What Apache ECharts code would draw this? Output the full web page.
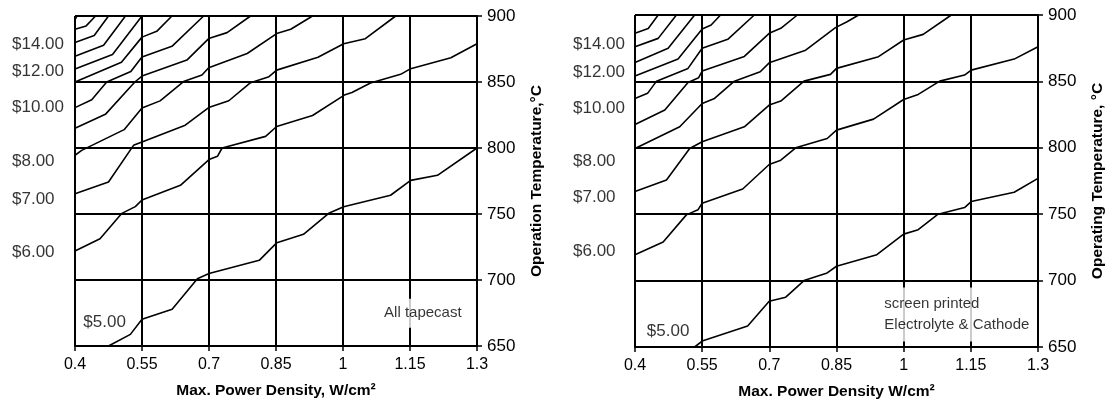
<!DOCTYPE html>
<html><head><meta charset="utf-8">
<script src="https://cdn.jsdelivr.net/npm/echarts@6/dist/echarts.min.js"></script>
<style>html,body{margin:0;padding:0;background:#fff;}#c{width:1107px;height:409px;}</style>
</head><body><div id="c"></div>
<script>
// ---- Data ----
// x = Max. Power Density (W/cm²), y = Operation Temperature (°C)
// Left panel: "All tapecast" cost contours ($16 ... $5)
const tc16 = [[0.4, 897], [0.404, 900]];
const tc15 = [[0.4, 890], [0.425, 892.5], [0.446, 900]];
const tc14 = [[0.4, 880], [0.443, 885.2], [0.475, 900]];
const tc13 = [[0.4, 869.6], [0.464, 877.9], [0.513, 900]];
const tc12 = [[0.4, 859.8], [0.484, 870.9], [0.55, 900]];
const tc11 = [[0.4, 850], [0.504, 865], [0.55, 884], [0.583, 888.4], [0.617, 900]];
const tc10 = [[0.4, 830.6], [0.4375, 836.6], [0.471, 850], [0.525, 858], [0.55, 869], [0.617, 877], [0.688, 900]];
const tc9 = [[0.4, 815], [0.468, 825.5], [0.534, 850], [0.55, 854.5], [0.6505, 866.6], [0.6993, 882.9], [0.7405, 887.4], [0.793, 900]];
const tc8 = [[0.4, 794.5], [0.415, 798.2], [0.51, 813.9], [0.55, 830.3], [0.5905, 835.7], [0.643, 850.3], [0.6843, 855.3], [0.6993, 860.8], [0.7855, 871.6], [0.8515, 886.7], [0.883, 890], [0.9318, 900]];
const tc7 = [[0.4, 765.4], [0.475, 774.3], [0.531, 802], [0.55, 804.5], [0.6468, 817.3], [0.6993, 830.6], [0.7443, 835.8], [0.793, 849.5], [0.8343, 854], [0.8515, 859], [0.944, 868.8], [1.0015, 879], [1.05, 882.8], [1.118, 900]];
const tc6 = [[0.4, 722], [0.456, 731.3], [0.505, 750.5], [0.535, 755.6], [0.55, 760.6], [0.636, 771.7], [0.7, 791.2], [0.719, 793.7], [0.7293, 800], [0.8268, 808.8], [0.8515, 816.3], [0.9318, 824.6], [1.003, 840.1], [1.02, 842], [1.0615, 849.2], [1.129, 855.8], [1.1515, 860.1], [1.2415, 868.4], [1.3, 879]];
const tc5 = [[0.475, 650], [0.524, 658.8], [0.55, 670.2], [0.6175, 677.8], [0.674, 701], [0.7, 705], [0.8125, 714.9], [0.852, 728.3], [0.9115, 734.6], [0.968, 750.5], [1.0015, 755.5], [1.1065, 764.2], [1.1515, 775.5], [1.2115, 779.3], [1.3, 800]];

// Right panel: "screen printed Electrolyte & Cathode" cost contours
const sp1 = [[0.4, 886.2], [0.4296, 889.9], [0.4518, 900]];
const sp2 = [[0.4, 876.1], [0.4518, 882.4], [0.4925, 900]];
const sp3 = [[0.4, 864.3], [0.474, 874.9], [0.5332, 900]];
const sp4 = [[0.4, 854], [0.4962, 866.8], [0.55, 889.4], [0.57, 892.5], [0.591, 900]];
const sp5 = [[0.4, 837.2], [0.4281, 841], [0.4481, 850.2], [0.5184, 859.8], [0.55, 874.9], [0.6072, 881.7], [0.6664, 900]];
const sp6 = [[0.4, 817.6], [0.4666, 828.4], [0.5184, 849.2], [0.5421, 852.8], [0.55, 857.8], [0.6442, 868.8], [0.6997, 886.2], [0.7256, 890], [0.7626, 900]];
const sp7 = [[0.4, 799.5], [0.4999, 815.8], [0.55, 833.4], [0.5776, 837.2], [0.622, 850.2], [0.6797, 857.3], [0.6997, 864], [0.7811, 873.5], [0.8477, 890.5], [0.8736, 894.9], [0.8995, 900]];
const sp8 = [[0.4, 767], [0.4703, 775.8], [0.5221, 799.5], [0.55, 804.5], [0.6442, 815.8], [0.6997, 832.2], [0.7256, 835.2], [0.7774, 850.2], [0.8366, 855.3], [0.85, 859.8], [0.9438, 868.6], [1.0, 881.2], [1.0436, 885.4], [1.1064, 900]];
const sp9 = [[0.4, 719.5], [0.4629, 729], [0.5147, 749.5], [0.5406, 753.3], [0.55, 758.3], [0.6405, 769], [0.6997, 787.4], [0.7256, 790.7], [0.7589, 800], [0.8292, 807], [0.85, 813.3], [0.9327, 821.6], [1.0, 836.4], [1.0325, 840.2], [1.0806, 850.2], [1.136, 854.8], [1.1508, 858.5], [1.2468, 866.8], [1.3, 876.1]];
const sp10 = [[0.5332, 650], [0.55, 654.5], [0.6516, 665.8], [0.6997, 684.5], [0.7367, 687.5], [0.7774, 700], [0.8292, 705.8], [0.85, 710.8], [0.9401, 719.5], [1.0, 735], [1.0325, 738.3], [1.0769, 750], [1.136, 755], [1.1508, 759.5], [1.2468, 766.5], [1.3, 777]];

// Cost labels beside the plots and the temperatures they sit at
const costLabels = ['$14.00', '$12.00', '$10.00', '$8.00', '$7.00', '$6.00'];
const costLabelTempsLeft = [878.2, 858.1, 831.1, 789.9, 761.5, 721.2];
const costLabelTempsRight = [878.2, 857.1, 830, 790.2, 762.4, 721.8];
const fiveLabel = '$5.00';
const fivePosLeft = [0.4186, 668];
const fivePosRight = [0.4264, 661.6];
const noteLeft = 'All tapecast';
const notePosLeft = [1.1787, 674.8];
const noteRight = 'screen printed\nElectrolyte & Cathode';
const notePosRight = [0.9456, 674.4];

const xTitles = ['Max. Power Density, W/cm²', 'Max. Power Density W/cm²'];
const yTitles = ['Operation Temperature,°C', 'Operating Temperature, °C'];

// ---- Chart ----
const FONT = '"Liberation Sans", Arial, Helvetica, sans-serif';
const chart = echarts.init(document.getElementById('c'), null, { renderer: 'canvas' });

function xAx(idx) {
  return {
    gridIndex: idx, type: 'value', min: 0.4, max: 1.3, interval: 0.15,
    name: xTitles[idx], nameLocation: 'middle', nameGap: 37,
    nameTextStyle: { fontFamily: FONT, fontSize: 15.5, fontWeight: 'bold', color: '#000' },
    axisLine: { show: true, onZero: false, lineStyle: { color: '#000', width: 2 } },
    axisTick: { show: true, inside: false, length: 5, lineStyle: { color: '#000', width: 1.5 } },
    axisLabel: { fontFamily: FONT, fontSize: 16, color: '#000', margin: 11,
      formatter: v => String(+(+v).toFixed(2)) },
    splitLine: { show: true, lineStyle: { color: '#000', width: 2 } }
  };
}
function yAx(idx) {
  return {
    gridIndex: idx, type: 'value', position: 'right', min: 650, max: 900, interval: 50,
    name: yTitles[idx], nameLocation: 'middle', nameRotate: 90, nameGap: 52,
    nameTextStyle: { fontFamily: FONT, fontSize: 15.5, fontWeight: 'bold', color: '#000' },
    axisLine: { show: true, onZero: false, lineStyle: { color: '#000', width: 2 } },
    axisTick: { show: true, inside: false, length: 5, lineStyle: { color: '#000', width: 1.5 } },
    axisLabel: { fontFamily: FONT, fontSize: 17, color: '#000', margin: 10 },
    splitLine: { show: true, lineStyle: { color: '#000', width: 2 } }
  };
}
function contour(data, idx) {
  return { type: 'line', xAxisIndex: idx, yAxisIndex: idx, data: data, symbol: 'none',
    lineStyle: { color: '#000', width: 1.6 }, clip: true, silent: true, z: 3 };
}
function costLabelSeries(temps, idx, offsetX) {
  return { type: 'scatter', xAxisIndex: idx, yAxisIndex: idx, clip: false, silent: true, z: 5,
    symbolSize: 1, itemStyle: { color: 'rgba(0,0,0,0)' },
    data: temps.map((t, i) => ({ name: costLabels[i], value: [0.4, t] })),
    label: { show: true, position: 'inside', align: 'left', verticalAlign: 'middle', offset: [offsetX, 0],
      formatter: '{b}', fontFamily: FONT, fontSize: 17, color: '#000' } };
}
function textPoint(pos, text, idx, labelOpt) {
  return { type: 'scatter', xAxisIndex: idx, yAxisIndex: idx, clip: false, silent: true, z: 6,
    symbolSize: 1, itemStyle: { color: 'rgba(0,0,0,0)' },
    data: [{ name: text, value: pos }],
    label: Object.assign({ show: true, position: 'inside', verticalAlign: 'middle', formatter: '{b}',
      fontFamily: FONT, color: '#000' }, labelOpt) };
}

const leftLines = [tc16, tc15, tc14, tc13, tc12, tc11, tc10, tc9, tc8, tc7, tc6, tc5];
const rightLines = [sp1, sp2, sp3, sp4, sp5, sp6, sp7, sp8, sp9, sp10];

const series = []
  .concat(leftLines.map(d => contour(d, 0)))
  .concat(rightLines.map(d => contour(d, 1)))
  .concat([
    costLabelSeries(costLabelTempsLeft, 0, -63),
    costLabelSeries(costLabelTempsRight, 1, -62),
    textPoint(fivePosLeft, fiveLabel, 0, { align: 'left', fontSize: 17 }),
    textPoint(fivePosRight, fiveLabel, 1, { align: 'left', fontSize: 17 }),
    textPoint(notePosLeft, noteLeft, 0, { align: 'center', fontSize: 15, backgroundColor: '#fff', padding: [7, 5] }),
    textPoint(notePosRight, noteRight, 1, { align: 'left', fontSize: 15, lineHeight: 21, backgroundColor: '#fff', padding: [6, 5] })
  ]);

chart.setOption({
  animation: false,
  backgroundColor: '#fff',
  grid: [
    { left: 75, top: 16, width: 402, height: 330 },
    { left: 635, top: 15, width: 406, height: 332 }
  ],
  xAxis: [xAx(0), xAx(1)],
  yAxis: [yAx(0), yAx(1)],
  series: series
});
</script></body></html>
